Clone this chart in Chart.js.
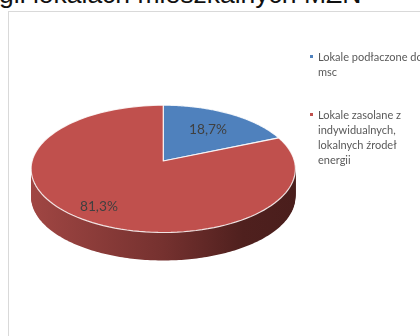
<!DOCTYPE html>
<html lang="pl">
<head>
<meta charset="utf-8">
<title>Lokale MZN</title>
<script src="https://cdn.jsdelivr.net/npm/chart.js@4"></script>
<style>
    html, body { margin: 0; padding: 0; background: #fff; }
    #page { position: relative; width: 420px; height: 336px; overflow: hidden; }
    #page canvas { position: absolute; left: 0; top: 0; }
    #frame { position: absolute; left: 8px; top: 11px; width: 420px; height: 340px; border: 1px solid #d9d9d9; }
    #title { position: absolute; left: -1px; top: -21px; font: 26.5px/30px "Liberation Sans", sans-serif; color: #111; white-space: nowrap; }
    #legend { position: absolute; left: 310px; top: 49px; width: 130px; font: 11px/15px Lato, sans-serif; color: #595959; }
    .item { position: relative; padding-left: 8px; margin-bottom: 28px; white-space: nowrap; }
    .item i { position: absolute; left: 0; top: 6px; width: 3px; height: 3px; }
</style>
</head>
<body>
<div id="page">
    <div id="frame"></div>
    <div id="title">gii lokalach mieszkalnych MZN</div>
    <canvas id="pieChart" width="420" height="336"></canvas>
    <div id="legend"></div>
</div>
<script>
const titleText = 'gii lokalach mieszkalnych MZN';
const categories = ['Lokale podłaczone do msc', 'Lokale zasolane z indywidualnych, lokalnych źrodeł energii'];
const legendLines = [
    ['Lokale podłaczone do', 'msc'],
    ['Lokale zasolane z', 'indywidualnych,', 'lokalnych źrodeł', 'energii']
];
const values = [18.7, 81.3];
const valueLabels = ['18,7%', '81,3%'];
const colors = ['#4f81bd', '#c0504d'];

// Rzut perspektywiczny koła na elipsę
const squash = 0.478;
const tilt = -0.123;
const depth = 28;

function project(arc, angle, offsetY, f) {
    const scale = f === undefined ? 1 : f;
    const u = Math.cos(angle) * scale, v = Math.sin(angle) * scale;
    const d = 1 + tilt * v;
    return {
        x: arc.x + arc.outerRadius * u / d,
        y: arc.y + arc.outerRadius * squash * v / d + (offsetY || 0)
    };
}

function traceSlice(ctx, arc) {
    ctx.beginPath();
    ctx.moveTo(arc.x, arc.y);
    const steps = 120;
    for (let i = 0; i <= steps; i++) {
        const p = project(arc, arc.startAngle + (arc.endAngle - arc.startAngle) * i / steps);
        ctx.lineTo(p.x, p.y);
    }
    ctx.closePath();
}

const pie3d = {
    id: 'pie3d',
    beforeDatasetDraw(chart, args) {
        const ctx = chart.ctx;
        const arcs = args.meta.data;
        const first = arcs[0];

        // Ściana boczna
        const grad = ctx.createLinearGradient(31, 0, 296, 0);
        grad.addColorStop(0, '#a04643');
        grad.addColorStop(0.5, '#75312f');
        grad.addColorStop(0.8, '#4f201e');
        grad.addColorStop(1, '#4a1e1c');
        ctx.save();
        ctx.fillStyle = grad;
        for (let off = depth; off > 0; off -= 1) {
            ctx.beginPath();
            for (let i = 0; i <= 180; i++) {
                const p = project(first, i / 180 * Math.PI, off);
                if (i === 0) ctx.moveTo(p.x, p.y); else ctx.lineTo(p.x, p.y);
            }
            ctx.closePath();
            ctx.fill();
        }

        // Górna powierzchnia
        arcs.forEach(function(arc) {
            traceSlice(ctx, arc);
            ctx.fillStyle = arc.options.backgroundColor;
            ctx.fill();
            ctx.strokeStyle = arc.options.borderColor;
            ctx.lineWidth = arc.options.borderWidth;
            ctx.lineJoin = 'round';
            ctx.stroke();
        });
        ctx.restore();
        return false;
    },
    afterDatasetsDraw(chart) {
        const ctx = chart.ctx;
        const nudgeX = [-9, -1];
        const nudgeY = [7, 0];
        chart.getDatasetMeta(0).data.forEach(function(arc, i) {
            const mid = (arc.startAngle + arc.endAngle) / 2;
            const p = project(arc, mid, 0, 0.8);
            ctx.save();
            ctx.font = '13.7px Lato, sans-serif';
            ctx.fillStyle = '#404040';
            ctx.textAlign = 'center';
            ctx.textBaseline = 'middle';
            ctx.fillText(valueLabels[i], p.x + nudgeX[i], p.y + nudgeY[i]);
            ctx.restore();
        });
    }
};

document.getElementById('title').textContent = titleText;
document.getElementById('legend').innerHTML = legendLines.map(function(lines, i) {
    return '<div class="item"><i style="background:' + colors[i] + '"></i>' + lines.join('<br>') + '</div>';
}).join('');

new Chart(document.getElementById('pieChart').getContext('2d'), {
    type: 'pie',
    data: {
        labels: categories,
        datasets: [{
            data: values,
            backgroundColor: colors,
            borderColor: 'rgba(255, 255, 255, 0.85)',
            borderWidth: 1.2
        }]
    },
    options: {
        responsive: false,
        animation: false,
        layout: { padding: { left: 31.5, right: 125, top: 29, bottom: 43 } },
        plugins: {
            legend: { display: false },
            tooltip: { enabled: false }
        }
    },
    plugins: [pie3d]
});
</script>
</body>
</html>
